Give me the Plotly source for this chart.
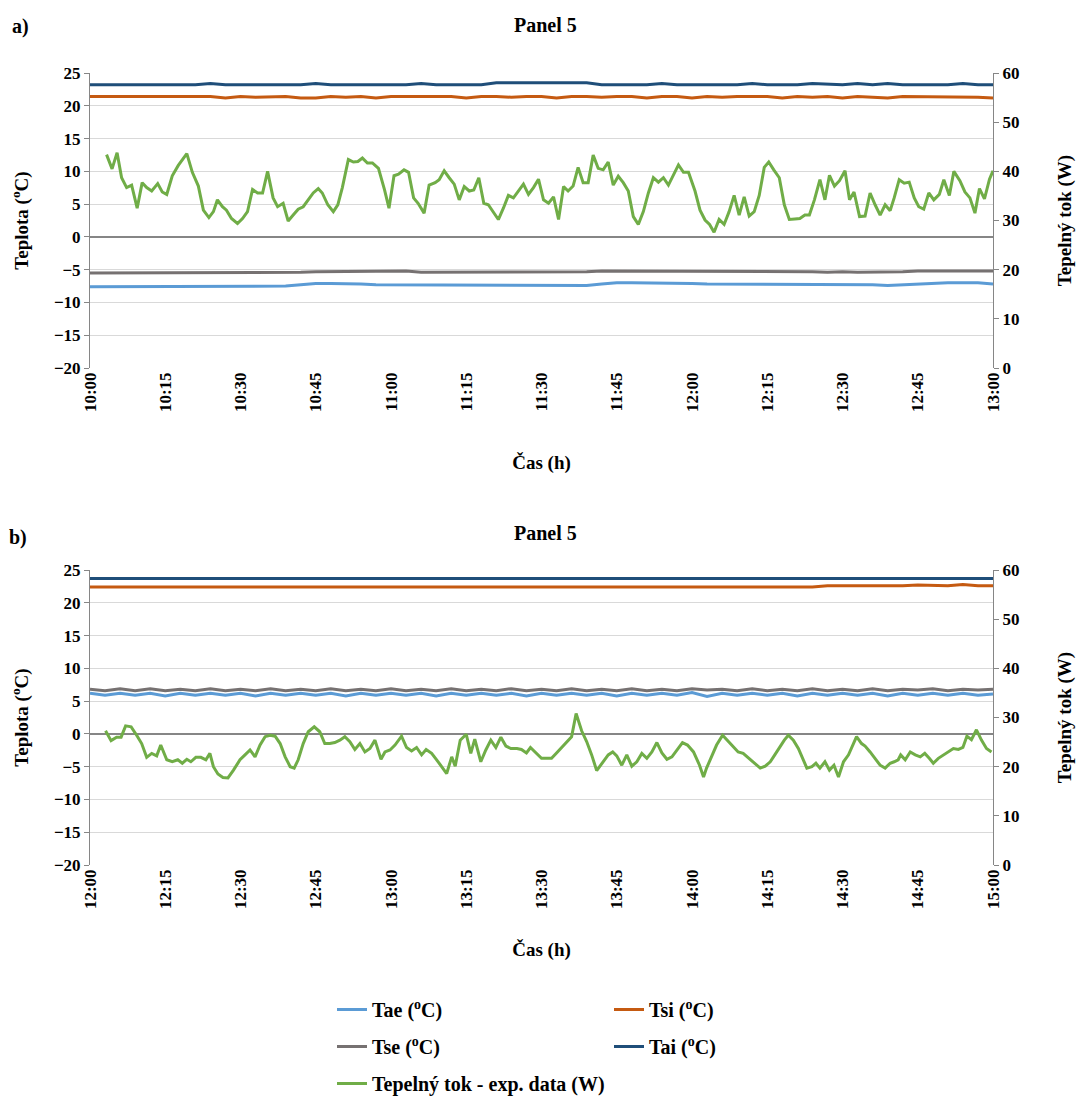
import plotly.graph_objects as go
from plotly.subplots import make_subplots

# ---------------- data ----------------
tick_labels_a = ["10:00", "10:15", "10:30", "10:45", "11:00", "11:15", "11:30",
                 "11:45", "12:00", "12:15", "12:30", "12:45", "13:00"]
tick_labels_b = ["12:00", "12:15", "12:30", "12:45", "13:00", "13:15", "13:30",
                 "13:45", "14:00", "14:15", "14:30", "14:45", "15:00"]

# temperature series sampled every 3 minutes (minutes from start)
temp_minutes = list(range(0, 181, 3))

tai_a = [23.2, 23.2, 23.2, 23.2, 23.2, 23.2, 23.2, 23.2, 23.4, 23.2,
         23.2, 23.2, 23.2, 23.2, 23.2, 23.4, 23.2, 23.2, 23.2, 23.2,
         23.2, 23.2, 23.4, 23.2, 23.2, 23.2, 23.2, 23.5, 23.5, 23.5,
         23.5, 23.5, 23.5, 23.5, 23.2, 23.2, 23.2, 23.2, 23.4, 23.2,
         23.2, 23.2, 23.2, 23.2, 23.4, 23.2, 23.2, 23.2, 23.4, 23.3,
         23.2, 23.4, 23.2, 23.4, 23.2, 23.2, 23.2, 23.2, 23.4, 23.2,
         23.2]
tsi_a = [21.4, 21.4, 21.4, 21.4, 21.4, 21.4, 21.3, 21.4, 21.4, 21.2,
         21.4, 21.3, 21.4, 21.4, 21.2, 21.2, 21.4, 21.3, 21.4, 21.2,
         21.4, 21.4, 21.3, 21.4, 21.4, 21.2, 21.4, 21.4, 21.3, 21.4,
         21.4, 21.2, 21.4, 21.4, 21.3, 21.4, 21.4, 21.2, 21.4, 21.4,
         21.2, 21.4, 21.3, 21.4, 21.4, 21.4, 21.2, 21.4, 21.3, 21.4,
         21.2, 21.4, 21.3, 21.2, 21.4, 21.4, 21.3, 21.4, 21.4, 21.3,
         21.2]
tse_a = [-5.5, -5.5, -5.5, -5.5, -5.5, -5.5, -5.5, -5.5, -5.5, -5.5,
         -5.5, -5.5, -5.5, -5.5, -5.4, -5.3, -5.3, -5.3, -5.3, -5.3,
         -5.3, -5.2, -5.4, -5.4, -5.4, -5.4, -5.4, -5.4, -5.4, -5.4,
         -5.4, -5.4, -5.4, -5.3, -5.2, -5.2, -5.2, -5.2, -5.2, -5.2,
         -5.2, -5.2, -5.2, -5.2, -5.2, -5.3, -5.3, -5.2, -5.3, -5.4,
         -5.3, -5.4, -5.4, -5.3, -5.3, -5.2, -5.2, -5.2, -5.2, -5.2,
         -5.2]
tae_a = [-7.6, -7.6, -7.6, -7.6, -7.6, -7.6, -7.6, -7.6, -7.6, -7.6,
         -7.6, -7.6, -7.6, -7.5, -7.3, -7.1, -7.1, -7.1, -7.2, -7.3,
         -7.3, -7.3, -7.3, -7.3, -7.4, -7.4, -7.4, -7.4, -7.4, -7.4,
         -7.4, -7.4, -7.4, -7.4, -7.2, -7.0, -7.0, -7.0, -7.0, -7.0,
         -7.1, -7.2, -7.2, -7.2, -7.2, -7.2, -7.2, -7.2, -7.3, -7.2,
         -7.2, -7.2, -7.3, -7.4, -7.3, -7.1, -7.0, -7.0, -7.0, -7.0,
         -7.2]

tai_b = [23.7, 23.7, 23.7, 23.7, 23.7, 23.7, 23.7, 23.7, 23.7, 23.7,
         23.7, 23.7, 23.7, 23.7, 23.7, 23.7, 23.7, 23.7, 23.7, 23.7,
         23.7, 23.7, 23.7, 23.7, 23.7, 23.7, 23.7, 23.7, 23.7, 23.7,
         23.7, 23.7, 23.7, 23.7, 23.7, 23.7, 23.7, 23.7, 23.7, 23.7,
         23.7, 23.7, 23.7, 23.7, 23.7, 23.7, 23.7, 23.7, 23.7, 23.7,
         23.7, 23.7, 23.7, 23.7, 23.7, 23.7, 23.7, 23.7, 23.7, 23.7,
         23.7]
tsi_b = [22.4, 22.4, 22.4, 22.4, 22.4, 22.4, 22.4, 22.4, 22.4, 22.4,
         22.4, 22.4, 22.4, 22.4, 22.4, 22.4, 22.4, 22.4, 22.4, 22.4,
         22.4, 22.4, 22.4, 22.4, 22.4, 22.4, 22.4, 22.4, 22.4, 22.4,
         22.4, 22.4, 22.4, 22.4, 22.4, 22.4, 22.4, 22.4, 22.4, 22.4,
         22.4, 22.4, 22.4, 22.4, 22.4, 22.4, 22.4, 22.4, 22.4, 22.6,
         22.6, 22.5, 22.6, 22.6, 22.6, 22.7, 22.6, 22.6, 22.8, 22.6,
         22.6]
tse_b = [6.8, 6.6, 6.9, 6.6, 6.9, 6.6, 6.8, 6.6, 6.9, 6.6,
         6.8, 6.6, 6.9, 6.6, 6.8, 6.6, 6.9, 6.6, 6.8, 6.6,
         6.9, 6.6, 6.8, 6.6, 6.9, 6.6, 6.8, 6.6, 6.9, 6.6,
         6.8, 6.6, 6.9, 6.6, 6.8, 6.6, 6.9, 6.6, 6.8, 6.6,
         6.9, 6.7, 6.8, 6.6, 6.9, 6.6, 6.8, 6.6, 6.9, 6.6,
         6.8, 6.6, 6.9, 6.6, 6.8, 6.7, 6.9, 6.6, 6.8, 6.7,
         6.8]
tae_b = [6.2, 5.9, 6.2, 5.9, 6.2, 5.8, 6.2, 5.9, 6.2, 5.9,
         6.2, 5.8, 6.2, 5.9, 6.2, 5.9, 6.2, 5.8, 6.2, 5.9,
         6.2, 5.9, 6.2, 5.8, 6.2, 5.9, 6.2, 5.9, 6.2, 5.8,
         6.2, 5.9, 6.2, 5.9, 6.2, 5.8, 6.2, 5.9, 6.2, 5.9,
         6.3, 5.7, 6.2, 5.9, 6.2, 5.9, 6.2, 5.8, 6.2, 5.9,
         6.2, 5.9, 6.2, 5.8, 6.2, 5.9, 6.2, 5.9, 6.2, 5.9,
         6.1]

# heat flux (W), minutes from start of window
flux_a_min = [3.3, 4.4, 5.4, 6.3, 7.3, 8.3, 9.4, 10.4, 11.3, 12.3, 13.5, 14.4, 15.3, 16.4,
              17.6, 19.3, 20.4, 21.6, 22.6, 23.7, 24.6, 25.4, 26.4, 27.2, 28.2, 29.4, 30.4,
              31.4, 32.4, 33.4, 34.4, 35.4, 36.5, 37.4, 38.5, 39.5, 40.5, 41.5, 42.5, 43.5,
              44.5, 45.5, 46.3, 47.4, 48.5, 49.4, 50.3, 51.5, 52.5, 53.4, 54.3, 55.3, 56.3,
              57.5, 58.7, 59.6,
              60.6, 61.5, 62.6, 63.5, 64.5, 65.4, 66.6, 67.6, 68.8, 69.6, 70.6, 71.6, 72.6,
              73.6, 74.6, 75.6, 76.5, 77.5, 78.5, 79.4, 80.4, 81.4, 82.4, 83.4, 84.4, 85.4,
              86.4, 87.4, 88.4, 89.4, 90.4, 91.4, 92.4, 93.4, 94.4, 95.3, 96.3, 97.3, 98.3,
              99.3, 100.3, 101.3, 102.3, 103.3, 104.3, 105.3, 106.3, 107.3, 108.3, 109.3,
              110.3, 111.3, 112.3, 113.3, 114.3, 115.3, 116.3, 117.3, 118.3, 119.3,
              120.6, 121.6, 122.6, 123.5, 124.4, 125.4, 126.4, 127.4, 128.4, 129.4, 130.4,
              131.4, 132.4, 133.4, 134.4, 135.3, 136.3, 137.4, 138.4, 139.4, 140.5, 141.5,
              142.5, 143.4, 144.4, 145.5, 146.5, 147.4, 148.4, 149.4, 150.5, 151.4, 152.3,
              153.4, 154.5, 155.5, 156.5, 157.5, 158.5, 159.5, 160.3, 161.3, 162.3, 163.3,
              164.3, 165.2, 166.2, 167.2, 168.2, 169.3, 170.2, 171.3, 172.2, 173.4, 174.4,
              175.4, 176.4, 177.3, 178.3, 179.3, 180.0]
flux_a_w = [43.4, 40.5, 43.8, 38.7, 36.7, 37.2, 32.5, 37.7, 36.7, 36.0, 37.5, 35.8, 35.3, 39.1,
            41.2, 43.6, 39.8, 37.0, 32.1, 30.6, 31.8, 34.2, 32.8, 32.1, 30.4, 29.4, 30.4,
            31.8, 36.3, 35.6, 35.6, 40.0, 34.6, 32.8, 33.5, 29.9, 31.1, 32.3, 32.8, 34.2,
            35.6, 36.5, 35.6, 33.2, 31.8, 33.2, 36.7, 42.4, 41.9, 42.0, 42.7, 41.7, 41.7,
            40.6, 36.3, 32.5,
            39.1, 39.4, 40.3, 39.8, 34.6, 33.5, 31.5, 37.2, 37.7, 38.3, 40.1, 38.7, 37.4,
            34.2, 36.9, 36.0, 36.2, 38.7, 33.5, 33.2, 31.8, 30.2, 32.5, 35.1, 34.6, 36.0,
            37.4, 35.3, 36.7, 38.4, 34.2, 33.5, 34.8, 30.2, 36.9, 36.0, 37.0, 40.8, 37.7,
            37.7, 43.3, 40.6, 40.3, 41.9, 37.2, 39.0, 37.7, 36.0, 30.8, 29.2,
            31.8, 35.6, 38.7, 37.8, 38.7, 37.2, 39.1, 41.3, 39.8, 39.8,
            36.0, 32.1, 30.1, 29.2, 27.6, 30.2, 29.2, 31.8, 35.1, 31.1, 34.8,
            30.9, 31.8, 35.1, 40.8, 41.9, 40.3, 38.7, 33.2, 30.2, 30.3, 30.4,
            31.1, 31.1, 34.2, 38.3, 34.2, 39.2, 37.0, 38.1, 40.1, 34.2, 35.8,
            30.8, 30.9, 35.6, 33.2, 31.1, 33.2, 32.0, 34.6, 38.3, 37.6, 37.8,
            34.6, 32.8, 32.3, 35.6, 34.2, 35.3, 38.3, 35.1, 40.0, 38.1, 35.8,
            34.6, 31.5, 36.5, 34.4, 38.4, 40.1]

flux_b_min = [3.1, 4.2, 5.3, 6.2, 7.1, 8.2, 9.3, 10.3, 11.3, 12.3, 13.3, 14.1, 15.3, 16.4,
              17.5, 18.4, 19.3, 20.1, 21.1, 22.1, 23.1, 23.9, 24.6, 25.5, 26.5, 27.5, 28.6,
              29.9, 30.9, 31.9, 32.9, 33.9, 34.9, 35.9, 36.9, 37.9, 38.9, 39.9, 40.7, 41.5,
              42.5, 43.5, 44.7, 45.8, 46.8, 47.8, 48.8, 49.8, 50.8, 51.8, 52.8, 53.8, 54.8,
              55.8, 56.8, 58.0, 58.8,
              59.8, 60.8, 62.1, 63.1, 64.1, 65.1, 66.1, 67.0, 68.1, 69.1, 70.1, 71.1, 72.1,
              72.8, 73.8, 75.0, 75.9, 76.7, 77.9, 78.9, 79.9, 80.9, 81.9, 82.9, 83.9, 85.1,
              86.0, 87.0, 87.8, 88.9, 90.0, 91.0, 92.0, 93.0, 94.0, 94.9, 96.0, 96.9, 98.0,
              99.0, 100.0, 101.0, 102.3, 103.3, 104.2, 105.0, 106.0, 107.0, 108.0, 109.0,
              110.0, 111.0, 112.0, 113.0, 114.0, 115.0, 116.0, 117.0, 118.1, 119.1, 120.3,
              121.5,
              122.3, 122.9, 123.9, 124.9, 126.1, 127.0, 128.1, 129.2, 130.2, 131.4, 132.6,
              133.6, 134.6, 135.6, 136.5, 137.5, 138.4, 139.2, 140.2, 141.2, 142.2, 142.9,
              143.9, 144.7, 145.5, 146.5, 147.4, 148.3, 149.2, 150.2, 151.2, 152.2, 152.8,
              153.8, 154.5, 155.5, 156.5, 157.5, 158.5, 159.5, 160.3, 161.1, 161.6, 162.5,
              163.5, 164.5, 165.5, 166.4, 167.3, 168.1, 169.1, 170.1, 171.1, 172.1, 173.1,
              174.0, 174.8, 175.7, 176.7, 177.7, 178.7, 179.7]
flux_b_w = [27.3, 25.3, 26.0, 26.0, 28.3, 28.1, 26.4, 24.7, 21.9, 22.7, 22.2, 24.4, 21.4, 21.0,
            21.4, 20.7, 21.5, 21.0, 21.9, 21.9, 21.4, 22.7, 20.0, 18.5, 17.8, 17.7, 19.3,
            21.4, 22.4, 23.4, 22.0, 24.4, 26.1, 26.4, 26.2, 24.7, 22.0, 20.0, 19.7, 21.4,
            24.7, 27.1, 28.1, 27.1, 24.7, 24.7, 24.9, 25.4, 26.1, 25.1, 23.5, 24.7, 23.0,
            23.7, 25.4, 21.5, 23.0,
            23.4, 24.4, 26.2, 23.9, 23.2, 23.9, 22.4, 23.5, 22.7, 21.4, 20.1, 18.6, 22.0,
            20.1, 25.4, 26.6, 22.7, 25.6, 21.0, 23.4, 25.4, 23.9, 26.0, 24.2, 23.7, 23.7,
            23.5, 22.8, 23.9, 22.7, 21.7, 21.7, 21.7, 22.8, 23.9, 24.9, 26.1, 30.8, 27.3,
            25.1, 22.4, 19.2, 21.0, 22.4, 23.0, 22.2, 20.3, 22.4, 20.1, 21.0,
            22.7, 21.7, 23.0, 24.9, 22.8, 21.5, 22.0, 23.4, 24.9, 24.4, 23.0,
            20.3,
            17.9, 19.7, 22.0, 24.4, 26.4, 25.4, 24.1, 23.0, 22.7, 21.7, 20.7,
            19.7, 20.1, 21.0, 22.4, 24.1, 25.4, 26.4, 25.4, 23.7, 21.4, 19.7,
            20.0, 20.7, 19.7, 21.0, 19.3, 20.3, 17.9, 21.0, 22.4, 24.9, 26.1,
            24.7, 24.2, 23.0, 21.7, 20.3, 19.7, 20.7, 21.0, 21.4, 22.4, 21.4,
            23.0, 22.4, 22.0, 22.7, 21.7, 20.7, 21.7, 22.4, 23.0, 23.7, 23.5,
            23.9, 26.2, 25.5, 27.5, 25.4, 23.7, 23.0]

# ---------------- styling ----------------
FONT = "Liberation Serif, Times New Roman, Times, serif"
C_TAE = "#5B9BD5"
C_TSI = "#C55A11"
C_TSE = "#767171"
C_TAI = "#1F4E79"
C_FLUX = "#70AD47"
LW = 3

fig = make_subplots(rows=2, cols=1,
                    specs=[[{"secondary_y": True}], [{"secondary_y": True}]])


def add_panel(row, tae, tse, tsi, tai, fmin, fw, show):
    common = dict(mode="lines", showlegend=show)
    fig.add_trace(go.Scatter(x=temp_minutes, y=tae, name="Tae (<sup>o</sup>C)",
                             line=dict(color=C_TAE, width=LW), legend="legend",
                             legendgroup="g1", **common), row=row, col=1, secondary_y=False)
    fig.add_trace(go.Scatter(x=temp_minutes, y=tse, name="Tse (<sup>o</sup>C)",
                             line=dict(color=C_TSE, width=LW), legend="legend",
                             legendgroup="g2", **common), row=row, col=1, secondary_y=False)
    fig.add_trace(go.Scatter(x=temp_minutes, y=tsi, name="Tsi (<sup>o</sup>C)",
                             line=dict(color=C_TSI, width=LW), legend="legend2",
                             legendgroup="g4", **common), row=row, col=1, secondary_y=False)
    fig.add_trace(go.Scatter(x=temp_minutes, y=tai, name="Tai (<sup>o</sup>C)",
                             line=dict(color=C_TAI, width=LW), legend="legend2",
                             legendgroup="g5", **common), row=row, col=1, secondary_y=False)
    fig.add_trace(go.Scatter(x=fmin, y=fw, name="Tepelný tok - exp. data (W)",
                             line=dict(color=C_FLUX, width=LW), legend="legend",
                             legendgroup="g3", **common), row=row, col=1, secondary_y=True)


add_panel(1, tae_a, tse_a, tsi_a, tai_a, flux_a_min, flux_a_w, True)
add_panel(2, tae_b, tse_b, tsi_b, tai_b, flux_b_min, flux_b_w, False)

W, H = 1079, 1097
ML, MR, MT, MB = 90, 86, 73, 232
plot_h = H - MT - MB


def pdom(top_px, bot_px):
    return [(H - MB - bot_px) / plot_h, (H - MB - top_px) / plot_h]


dom_a = pdom(73, 368)
dom_b = pdom(570, 865)

tickfont = dict(family=FONT, size=17, color="#000000", weight="bold")
titlefont = dict(family=FONT, size=19, color="#000000", weight="bold")

xcommon = dict(range=[0, 180], tickmode="array", tickvals=list(range(0, 181, 15)),
               tickangle=-90, tickfont=tickfont, showgrid=False, zeroline=False,
               showline=False, ticks="", automargin=False)
fig.update_layout(
    xaxis=dict(domain=[0, 1], ticktext=tick_labels_a,
               title=dict(text="Čas (h)", font=titlefont, standoff=44), **xcommon),
    xaxis2=dict(domain=[0, 1], ticktext=tick_labels_b,
                title=dict(text="Čas (h)", font=titlefont, standoff=34), **xcommon),
)

ycommon = dict(range=[-20, 25], tickvals=list(range(-20, 26, 5)), tickfont=tickfont,
               showgrid=True, gridcolor="#D9D9D9", gridwidth=1,
               zeroline=True, zerolinecolor="#868686", zerolinewidth=1.5,
               showline=True, linecolor="#868686", linewidth=1, ticks="outside",
               ticklen=5, tickcolor="#868686", automargin=False)
y2common = dict(range=[0, 60], tickvals=list(range(0, 61, 10)), tickfont=tickfont,
                showgrid=False, zeroline=False, showline=True, linecolor="#868686",
                linewidth=1, ticks="outside", ticklen=5, tickcolor="#868686",
                automargin=False)
fig.update_layout(
    yaxis=dict(domain=dom_a, title=dict(text="Teplota (<sup>o</sup>C)", font=titlefont,
                                        standoff=20), **ycommon),
    yaxis2=dict(title=dict(text="Tepelný tok (W)", font=titlefont, standoff=39), **y2common),
    yaxis3=dict(domain=dom_b, title=dict(text="Teplota (<sup>o</sup>C)", font=titlefont,
                                         standoff=20), **ycommon),
    yaxis4=dict(title=dict(text="Tepelný tok (W)", font=titlefont, standoff=39), **y2common),
)


def ppx(px_x, px_y):
    return (px_x - ML) / (W - ML - MR), (H - MB - px_y) / plot_h


annots = []
for txt, (px, py), size in [("Panel 5", (545, 25), 20), ("Panel 5", (545, 533), 20),
                            ("a)", (20, 27), 20), ("b)", (18, 537), 20)]:
    xx, yy = ppx(px, py)
    annots.append(dict(text=txt, x=xx, y=yy, xref="paper", yref="paper", showarrow=False,
                       xanchor="center", yanchor="middle",
                       font=dict(family=FONT, size=size, color="#000000", weight="bold")))

lx1, ly = ppx(332, 990)
lx2, _ = ppx(609, 990)
legfont = dict(family=FONT, size=20, color="#000000", weight="bold")
fig.update_layout(
    width=W, height=H,
    margin=dict(l=ML, r=MR, t=MT, b=MB, autoexpand=False),
    paper_bgcolor="#FFFFFF", plot_bgcolor="#FFFFFF",
    font=dict(family=FONT, color="#000000"),
    annotations=annots,
    legend=dict(x=lx1, y=ly, xanchor="left", yanchor="top", orientation="v",
                font=legfont, tracegroupgap=8, bgcolor="rgba(0,0,0,0)", itemwidth=30),
    legend2=dict(x=lx2, y=ly, xanchor="left", yanchor="top", orientation="v",
                 font=legfont, tracegroupgap=8, bgcolor="rgba(0,0,0,0)", itemwidth=30),
)

fig.write_html(
    "out.html",
    config={"displayModeBar": False},
    post_script=("var d=document.getElementById('{plot_id}');"
                 "d.style.position='absolute';d.style.top='0px';d.style.left='0px';"
                 "document.body.style.margin='0';document.body.style.padding='0';"
                 "document.body.style.overflow='hidden';"),
)
